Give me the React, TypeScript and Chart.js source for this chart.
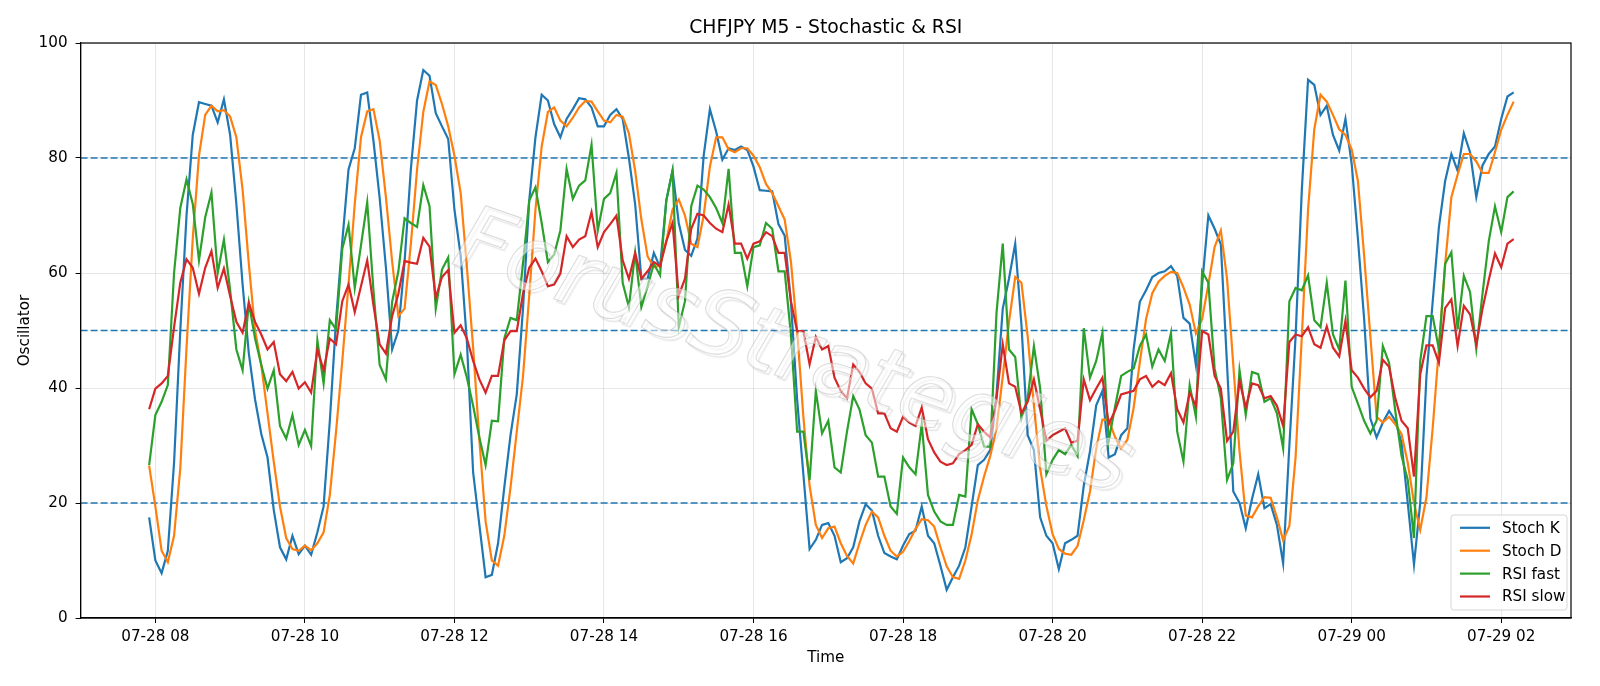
import React, { useEffect, useRef } from 'react';
import { Chart, registerables } from 'chart.js';

Chart.register(...registerables);

// time axis: minutes relative to 07-28 08:00, one bar every 5 minutes from 07:55
const START_MIN = -5;
const STEP_MIN = 5;

const STOCH_K = [
  17.5, 10, 7.8, 11.7, 27, 50, 70, 84, 89.7, 89.4,
  89.1, 86.2, 90.2, 84, 72, 58, 46, 38, 32, 27.9,
  18.8, 12.3, 10.2, 14.3, 11.1, 12.6, 11, 14.9, 19.4, 34.3,
  51.8, 65.5, 78, 81.7, 91, 91.4, 83, 73, 61, 46.7,
  50, 62, 78, 90, 95.3, 94.3, 87.8, 85.5, 83.3, 71,
  63, 48, 25.3, 16.2, 7.1, 7.5, 13, 22.7, 31.8, 38.9,
  53.8, 72.6, 83.6, 91, 90, 85.9, 83.6, 86.8, 88.5, 90.4,
  90.2, 88.8, 85.5, 85.5, 87.5, 88.5, 86.8, 80, 72, 59,
  59, 63.5, 61, 72.6, 77.8, 68.7, 64, 63, 66, 80.4,
  88.5, 84.6, 79.7, 81.7, 81.4, 82, 81.4, 78.5, 74.4, 74.3,
  74.2, 68.5, 66.5, 55, 38, 25, 12, 13.6, 16.2, 16.5,
  14.3, 9.7, 10.4, 12.3, 16.8, 19.8, 18.7, 14.3, 11.3, 10.7,
  10.2, 12.6, 14.6, 15.2, 19.4, 14.3, 13, 9.1, 4.9, 7.1,
  9.1, 12.3, 19.4, 26.6, 27.5, 29.2, 38.9, 53.8, 59, 65.1,
  51, 31.8, 29.2, 17.5, 14.3, 13, 8.5, 13, 13.6, 14.3,
  23, 29, 37, 39.5, 27.9, 28.5, 31.8, 33, 46.7, 55,
  57, 59.3, 60, 60.3, 61.2, 59.5, 52.2, 51.2, 44, 58,
  70, 67.7, 65, 44, 22, 20, 15.6, 20.7, 25, 19.1,
  19.8, 16.2, 9.5, 30, 49, 74.5, 93.6, 92.7, 87.5, 89.1,
  84, 81.3, 86.8, 79, 66, 52, 34.7, 31.4, 34, 36,
  34.3, 30.5, 20, 9.3, 20, 42, 55, 68, 76, 80.7,
  77.8, 84.3, 81, 73.2, 78.7, 80.7, 82, 86.8, 90.7, 91.4,
];

const STOCH_D = [
  26.5, 19.4, 11.7, 9.7, 14.3, 26, 47, 66, 80.4, 87.5,
  89.1, 88.1, 88.3, 87.2, 83.6, 74.5, 61.6, 50, 44, 35.6,
  27.2, 19.4, 13.9, 12, 11.7, 12.6, 11.8, 13, 14.9, 21.4,
  32.4, 44.7, 58, 72, 83.6, 88.1, 88.5, 83, 73.2, 62,
  52.5, 53.8, 65, 78, 88, 93.3, 92.7, 89.4, 85.5, 80.4,
  73.9, 61, 47, 31, 16.8, 10, 9.1, 14.3, 22.7, 32.4,
  42, 56, 71, 82, 88, 88.8, 86.5, 85.5, 87, 88.8,
  89.9, 89.8, 88.1, 86.5, 86.2, 87.5, 87.2, 84.3, 77.8, 69.3,
  62.9, 61, 61.3, 65.5, 71, 72.8, 70, 65.1, 64.5, 70,
  78.5, 83.6, 83.6, 81.5, 81, 81.7, 81.7, 80.4, 78.4, 75.5,
  73.9, 71.6, 69.3, 62, 50, 35, 23, 16.2, 13.9, 15.6,
  15.9, 13, 10.8, 9.5, 13, 16.2, 18.5, 17.5, 14.3, 11.7,
  10.7, 11.5, 13.4, 15.5, 17.2, 17, 15.9, 12.3, 9, 7.1,
  6.8, 10, 14.5, 20.5, 24.6, 28.2, 33, 42, 51.5, 59.3,
  58.3, 49, 37, 26, 19.5, 14.6, 12, 11.2, 11, 12.5,
  17, 22, 29.5, 34.5, 34.5, 31.5, 29.5, 31, 36.5, 44.5,
  52, 56.5, 58.5, 59.5, 60.2, 60, 57.5, 54.5, 49.5, 52,
  58, 64.5, 67.4, 59, 44, 29, 17.8, 17.5, 19.4, 21,
  20.9, 17.5, 13.5, 16, 28, 49, 71, 85, 91, 89.8,
  87.5, 85, 84, 81.5, 76, 63, 49, 35, 34, 35,
  33.7, 32, 27, 20, 15.3, 21, 33, 47, 61.5, 73.2,
  77.1, 80.7, 80.7, 79.4, 77.4, 77.4, 81, 84.9, 87.5, 89.8,
];

const RSI_FAST = [
  26.6, 35.3, 37.6, 40.5, 60, 71.3, 76.3, 72, 62.2, 69.7,
  74, 60, 65.8, 57, 46.7, 43.1, 54.8, 48.6, 44, 39.9,
  43.1, 33.4, 31.2, 35.3, 30.1, 32.7, 29.9, 48.3, 40.8, 51.8,
  50.2, 64.2, 68.4, 57.4, 64.8, 72.3, 57, 44, 41.5, 55,
  60.3, 69.5, 68.7, 68, 75.3, 71.6, 53.8, 60.6, 62.7, 42.4,
  45.8, 41.8, 36.9, 31.4, 26.6, 34.3, 34.2, 48.6, 52.2, 51.8,
  61.6, 72.6, 74.9, 68.7, 61.9, 63.2, 67.4, 78.1, 72.9, 75.2,
  76.1, 82.3, 67.4, 72.9, 73.9, 77.4, 58.3, 54.1, 63.5, 54.1,
  57.7, 61.6, 59.6, 72.6, 77.8, 50.6, 55.1, 71.6, 75.2, 74.5,
  73.2, 71.3, 68.7, 78.1, 63.5, 63.5, 57.7, 64.5, 64.8, 68.7,
  67.7, 60.3, 60.3, 49.3, 32.4, 32.4, 24, 39.5, 32.1, 34.3,
  26.2, 25.3, 32.4, 38.6, 36.3, 31.8, 30.5, 24.6, 24.6, 19.4,
  18.1, 27.9, 26.2, 25, 33.7, 21.4, 18.5, 16.8, 16.2, 16.2,
  21.4, 21.1, 36.3, 33.7, 29.8, 29.8, 53.1, 65.1, 46.7, 45.4,
  34.7, 38.2, 47.3, 40, 25, 27.5, 29.2, 28.5, 30.1, 28.2,
  50.4, 41.8, 44.7, 49.6, 30.8, 36.6, 42.1, 42.8, 43.4, 47.3,
  49.3, 43.7, 46.7, 44.7, 49.6, 32.4, 27.2, 40.5, 35, 60.3,
  58.3, 43.4, 38.2, 24, 26.9, 43.1, 35.3, 42.8, 42.4, 37.6,
  38.2, 35.6, 29.5, 55.1, 57.4, 57, 59.6, 51.8, 50.6, 58.3,
  49.3, 46.7, 58.7, 40.2, 37.3, 34.3, 32.1, 34.3, 47.3, 44.4,
  36, 28.2, 24, 13.9, 44.7, 52.5, 52.5, 46.7, 61.6, 63.6,
  50.2, 59.5, 56.7, 46.8, 56.4, 65.5, 71.6, 67.1, 73.2, 74.2,
];

const RSI_SLOW = [
  36.3, 39.9, 40.8, 42.1, 50.6, 58.3, 62.4, 60.9, 56.4, 60.9,
  63.8, 57.4, 60.8, 56, 51.5, 49.6, 54.8, 51.5, 49.3, 46.7,
  48, 42.4, 41.2, 42.8, 39.9, 41, 39.2, 46.7, 43.1, 48.6,
  47.6, 55.1, 58, 53.2, 57.7, 62.2, 54.4, 47.6, 46, 52.5,
  56.4, 62.1, 61.8, 61.6, 66.1, 64.6, 55.7, 59.3, 60.5, 49.6,
  50.9, 48.6, 44.7, 41.5, 39.2, 42.1, 42.1, 48.3, 49.9, 49.9,
  56.4, 60.9, 62.5, 60.3, 57.7, 58, 59.9, 66.4, 64.5, 65.8,
  66.4, 70.6, 64.5, 67.1, 68.5, 70, 62.2, 59, 63.5, 59,
  60.3, 61.9, 61.2, 65.5, 68.7, 56.1, 59, 67.7, 70.3, 70,
  68.7, 67.7, 67.1, 71.9, 65.1, 65.1, 62.5, 65.1, 65.5, 67.1,
  66.4, 63.5, 63.5, 55.1, 49.9, 49.9, 44.1, 48.9, 46.7, 47.3,
  41.8, 39.5, 38.2, 44.1, 42.8, 40.8, 39.9, 35.6, 35.6, 33,
  32.4, 35, 34, 33.4, 36.6, 31.1, 28.8, 27.2, 26.6, 26.9,
  28.5, 29.2, 30.1, 33.7, 32.4, 31.4, 38.2, 47.6, 40.8, 40.2,
  35.6, 37.6, 41.5, 36.3, 30.8, 31.8, 32.4, 33, 30.5, 30.8,
  41.5, 37.9, 39.9, 41.8, 33.7, 36, 38.9, 39.2, 39.5, 41.5,
  42.1, 40.2, 41.2, 40.5, 42.6, 36.3, 34, 39.2, 36.9, 49.9,
  49.3, 42.1, 39.9, 30.8, 32.4, 41.2, 36.6, 40.8, 40.5, 38.2,
  38.6, 36.9, 33.4, 48, 49.3, 49, 50.6, 47.6, 47, 50.7,
  47, 45.5, 51.7, 43.1, 41.8, 39.9, 38.4, 39.5, 44.9, 43.7,
  38.2, 34.3, 33, 24.6, 42.4, 47.4, 47.4, 44.4, 53.9, 55.4,
  47.3, 54.3, 52.8, 47.6, 53.8, 58.8, 63.4, 61, 65.1, 65.9,
];

const TIME_MIN = STOCH_K.map((_, i) => START_MIN + i * STEP_MIN);

const X_TICKS = [0, 120, 240, 360, 480, 600, 720, 840, 960, 1080];
const X_TICK_LABELS = [
  '07-28 08', '07-28 10', '07-28 12', '07-28 14', '07-28 16',
  '07-28 18', '07-28 20', '07-28 22', '07-29 00', '07-29 02',
];
const Y_TICKS = [0, 20, 40, 60, 80, 100];
const LEVELS = [20, 50, 80];

const SERIES_LABELS = ['Stoch K', 'Stoch D', 'RSI fast', 'RSI slow'];
const SERIES_COLORS = ['#1f77b4', '#ff7f0e', '#2ca02c', '#d62728'];

const TITLE = 'CHFJPY M5 - Stochastic & RSI';
const X_TITLE = 'Time';
const Y_TITLE = 'Oscillator';
const WATERMARK = 'ForusStrategies';

const FONT = '"DejaVu Sans", "Liberation Sans", sans-serif';
const FS = 15.2;

const overlay = {
  id: 'overlay',
  beforeDatasetsDraw(chart: any) {
    const { ctx, chartArea: a, scales } = chart;
    const y = scales.y;
    ctx.save();
    ctx.strokeStyle = '#1f77b4';
    ctx.lineWidth = 1.4;
    ctx.setLineDash([7, 3]);
    LEVELS.forEach((v) => {
      const py = y.getPixelForValue(v);
      ctx.beginPath();
      ctx.moveTo(a.left, py);
      ctx.lineTo(a.right, py);
      ctx.stroke();
    });
    ctx.restore();
  },
  afterDatasetsDraw(chart: any) {
    const { ctx, chartArea: a } = chart;
    // watermark
    ctx.save();
    ctx.beginPath();
    ctx.rect(a.left, a.top, a.right - a.left, a.bottom - a.top);
    ctx.clip();
    ctx.translate(792, 356);
    ctx.rotate((19 * Math.PI) / 180);
    ctx.font = `italic 90px ${FONT}`;
    ctx.textAlign = 'center';
    ctx.textBaseline = 'middle';
    ctx.shadowColor = 'rgba(0,0,0,0.25)';
    ctx.shadowOffsetX = 3;
    ctx.shadowOffsetY = 3;
    ctx.shadowBlur = 1.5;
    ctx.lineWidth = 1.2;
    ctx.strokeStyle = 'rgba(175,175,175,0.55)';
    ctx.strokeText(WATERMARK, 0, 0);
    ctx.shadowColor = 'transparent';
    ctx.fillStyle = 'rgba(255,255,255,0.5)';
    ctx.fillText(WATERMARK, 0, 0);
    ctx.restore();
  },
  afterDraw(chart: any) {
    const { ctx, chartArea: a } = chart;
    ctx.save();
    // frame
    ctx.strokeStyle = '#000';
    ctx.lineWidth = 1.2;
    ctx.strokeRect(a.left, a.top, a.right - a.left, a.bottom - a.top);

    // title
    ctx.fillStyle = '#000';
    ctx.font = `18.8px ${FONT}`;
    ctx.textAlign = 'center';
    ctx.textBaseline = 'alphabetic';
    ctx.fillText(TITLE, (a.left + a.right) / 2, a.top - 10.5);

    // axis titles
    ctx.font = `${FS}px ${FONT}`;
    ctx.textBaseline = 'middle';
    ctx.fillText(X_TITLE, (a.left + a.right) / 2, 658);
    ctx.save();
    ctx.translate(25, (a.top + a.bottom) / 2);
    ctx.rotate(-Math.PI / 2);
    ctx.fillText(Y_TITLE, 0, 0);
    ctx.restore();

    // legend (matplotlib-like, lower right inside the axes)
    const datasets = chart.data.datasets;
    ctx.font = `${FS}px ${FONT}`;
    const w = 116;
    const h = 95;
    const bx = a.right - 4 - w;
    const by = a.bottom - 8 - h;
    const r = 3;
    ctx.beginPath();
    ctx.moveTo(bx + r, by);
    ctx.lineTo(bx + w - r, by);
    ctx.quadraticCurveTo(bx + w, by, bx + w, by + r);
    ctx.lineTo(bx + w, by + h - r);
    ctx.quadraticCurveTo(bx + w, by + h, bx + w - r, by + h);
    ctx.lineTo(bx + r, by + h);
    ctx.quadraticCurveTo(bx, by + h, bx, by + h - r);
    ctx.lineTo(bx, by + r);
    ctx.quadraticCurveTo(bx, by, bx + r, by);
    ctx.closePath();
    ctx.fillStyle = 'rgba(255,255,255,0.8)';
    ctx.fill();
    ctx.strokeStyle = 'rgba(204,204,204,0.8)';
    ctx.lineWidth = 1;
    ctx.stroke();
    datasets.forEach((d: any, i: number) => {
      const cy = by + 12.8 + i * 22.9;
      ctx.strokeStyle = d.borderColor;
      ctx.lineWidth = 2.2;
      ctx.beginPath();
      ctx.moveTo(bx + 9, cy);
      ctx.lineTo(bx + 39, cy);
      ctx.stroke();
      ctx.fillStyle = '#000';
      ctx.textAlign = 'left';
      ctx.textBaseline = 'middle';
      ctx.fillText(d.label, bx + 51, cy + 1);
    });
    ctx.restore();
  },
};

export default function App() {
  const ref = useRef<HTMLCanvasElement | null>(null);

  useEffect(() => {
    if (!ref.current) return;
    const series = [STOCH_K, STOCH_D, RSI_FAST, RSI_SLOW];
    const chart = new Chart(ref.current, {
      type: 'line',
      data: {
        datasets: series.map((vals, k) => ({
          label: SERIES_LABELS[k],
          data: vals.map((v, i) => ({ x: TIME_MIN[i], y: v })),
          borderColor: SERIES_COLORS[k],
          backgroundColor: SERIES_COLORS[k],
          borderWidth: 2.2,
          pointRadius: 0,
          tension: 0,
          fill: false,
          order: 3 - k,
        })),
      },
      options: {
        responsive: false,
        animation: false,
        devicePixelRatio: 1,
        layout: { padding: { top: 43, right: 29, left: 0, bottom: 0 } },
        plugins: {
          legend: { display: false },
          title: { display: false },
          tooltip: { enabled: false },
        },
        scales: {
          x: {
            type: 'linear',
            min: -60,
            max: 1136,
            afterBuildTicks: (s: any) => {
              s.ticks = X_TICKS.map((v) => ({ value: v }));
            },
            afterFit: (s: any) => {
              s.height = 68;
            },
            ticks: {
              autoSkip: false,
              maxRotation: 0,
              padding: 5,
              color: '#000',
              font: { family: FONT, size: FS },
              callback: (v: any) => {
                const idx = X_TICKS.indexOf(Number(v));
                return idx >= 0 ? X_TICK_LABELS[idx] : '';
              },
            },
            grid: {
              color: 'rgba(176,176,176,0.3)',
              lineWidth: 1,
              tickColor: '#000',
              tickLength: 5,
            },
            border: { display: true, color: '#000', width: 1.2 },
          },
          y: {
            type: 'linear',
            min: 0,
            max: 100,
            afterBuildTicks: (s: any) => {
              s.ticks = Y_TICKS.map((v) => ({ value: v }));
            },
            afterFit: (s: any) => {
              s.width = 80.6;
            },
            ticks: {
              padding: 8,
              color: '#000',
              font: { family: FONT, size: FS },
              callback: (v: any) => String(v),
            },
            grid: {
              color: 'rgba(176,176,176,0.3)',
              lineWidth: 1,
              tickColor: '#000',
              tickLength: 5,
            },
            border: { display: true, color: '#000', width: 1.2 },
          },
        },
      },
      plugins: [overlay],
    } as any);
    return () => chart.destroy();
  }, []);

  return (
    <div style={{ position: 'fixed', left: 0, top: 0, width: 1600, height: 686, background: '#fff' }}>
      <canvas ref={ref} width={1600} height={686} style={{ width: 1600, height: 686, display: 'block' }} />
    </div>
  );
}
